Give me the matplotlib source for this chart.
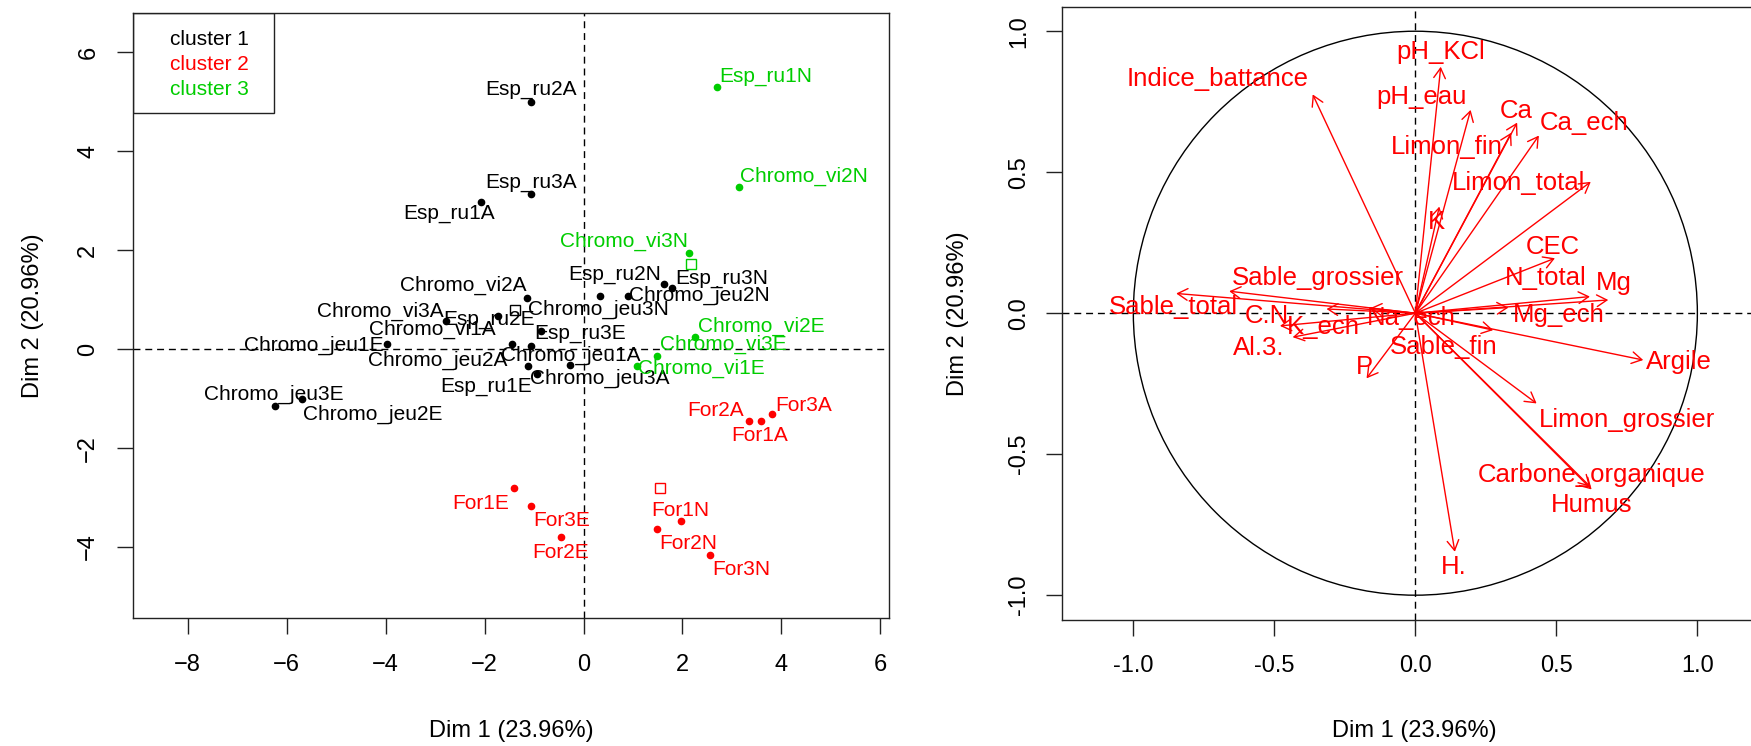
import numpy as np
import matplotlib.pyplot as plt
from matplotlib.patches import Circle, Rectangle

plt.rcParams['font.family'] = ['Liberation Sans', 'DejaVu Sans']

# ---- individuals factor map (HCPC clusters) ----
ind_names = ['Esp_ru2A', 'Esp_ru3A', 'Esp_ru1A', 'Chromo_vi2A', 'Chromo_vi3A',
             'Esp_ru2E', 'Chromo_vi1A', 'Chromo_jeu1E', 'Chromo_jeu2A', 'Chromo_jeu1A',
             'Chromo_jeu3A', 'Esp_ru1E', 'Esp_ru3E', 'Chromo_jeu3N', 'Esp_ru2N',
             'Esp_ru3N', 'Chromo_jeu2N', 'Chromo_jeu3E', 'Chromo_jeu2E',
             'Esp_ru1N', 'Chromo_vi2N', 'Chromo_vi3N', 'Chromo_vi2E', 'Chromo_vi3E',
             'Chromo_vi1E',
             'For2A', 'For1A', 'For3A', 'For1N', 'For2N', 'For3N', 'For1E', 'For3E', 'For2E']
ind_x = [-1.07, -1.07, -2.08, -1.15, -2.78, -1.72, -1.06, -3.98, -1.45, -0.27,
         -0.95, -1.13, -0.86, 0.33, 1.63, 1.78, 0.90, -6.23, -5.70,
         2.69, 3.15, 2.14, 2.25, 1.48, 1.09,
         3.34, 3.58, 3.81, 1.97, 1.48, 2.55, -1.40, -1.07, -0.46]
ind_y = [4.99, 3.13, 2.97, 1.04, 0.56, 0.66, 0.06, 0.11, 0.10, -0.33,
         -0.50, -0.34, 0.37, 1.08, 1.32, 1.24, 1.08, -1.14, -1.01,
         5.29, 3.27, 1.95, 0.25, -0.14, -0.35,
         -1.45, -1.45, -1.31, -3.47, -3.64, -4.16, -2.81, -3.18, -3.80]
ind_clust = [0] * 19 + [2] * 6 + [1] * 9

centre_x = [-1.39, 1.54, 2.17]
centre_y = [0.79, -2.81, 1.72]
clust_names = ['cluster 1', 'cluster 2', 'cluster 3']
clust_cols = ['black', '#FF0000', '#00CD00']

# ---- variables factor map ----
var_names = ['Indice_battance', 'pH_KCl', 'pH_eau', 'Ca', 'Limon_fin', 'Ca_ech',
             'Limon_total', 'K', 'CEC', 'N_total', 'Mg', 'Mg_ech', 'Argile',
             'Limon_grossier', 'Carbone_organique', 'Humus', 'H.', 'P', 'Sable_fin',
             'Na_ech', 'Sable_grossier', 'Sable_total', 'C.N', 'K_ech', 'Al.3.']
var_x = [-0.364, 0.090, 0.196, 0.361, 0.340, 0.438, 0.622, 0.085, 0.495, 0.619,
         0.684, 0.330, 0.808, 0.430, 0.620, 0.625, 0.140, -0.173, 0.276,
         -0.160, -0.660, -0.848, -0.480, -0.315, -0.435]
var_y = [0.776, 0.874, 0.721, 0.676, 0.640, 0.630, 0.466, 0.378, 0.195, 0.059,
         0.047, 0.020, -0.166, -0.320, -0.615, -0.625, -0.846, -0.231, -0.060,
         0.018, 0.078, 0.070, -0.045, 0.015, -0.085]

dim1_lab = 'Dim 1 (23.96%)'
dim2_lab = 'Dim 2 (20.96%)'

# label offsets (data units) from each point / arrow tip, as placed by autoLab
ind_off = {
    'Esp_ru2A': (0.0, 0.26), 'Esp_ru3A': (0.0, 0.23), 'Esp_ru1A': (-0.63, -0.22),
    'Chromo_vi2A': (-1.29, 0.24), 'Chromo_vi3A': (-1.32, 0.20), 'Esp_ru2E': (-0.19, -0.07),
    'Chromo_vi1A': (-1.99, 0.33), 'Chromo_jeu1E': (-1.47, -0.03), 'Chromo_jeu2A': (-1.49, -0.32),
    'Chromo_jeu1A': (0.01, 0.21), 'Chromo_jeu3A': (1.28, -0.09), 'Esp_ru1E': (-0.83, -0.42),
    'Esp_ru3E': (0.79, -0.05), 'Chromo_jeu3N': (-0.02, -0.27), 'Esp_ru2N': (-1.01, 0.18),
    'Esp_ru3N': (1.01, 0.19), 'Chromo_jeu2N': (1.45, 0.0), 'Chromo_jeu3E': (-0.03, 0.23),
    'Chromo_jeu2E': (1.44, -0.30), 'Esp_ru1N': (0.99, 0.23), 'Chromo_vi2N': (1.30, 0.23),
    'Chromo_vi3N': (-1.32, 0.22), 'Chromo_vi2E': (1.35, 0.22), 'Chromo_vi3E': (1.34, 0.24),
    'Chromo_vi1E': (1.30, -0.04), 'For2A': (-0.67, 0.20), 'For1A': (-0.03, -0.29),
    'For3A': (0.63, 0.17), 'For1N': (-0.02, 0.20), 'For2N': (0.64, -0.29),
    'For3N': (0.63, -0.29), 'For1E': (-0.68, -0.31), 'For3E': (0.63, -0.29),
    'For2E': (0.0, -0.30),
}
var_off = {
    'Indice_battance': (-0.338, 0.053), 'pH_KCl': (0.0, 0.053), 'pH_eau': (-0.174, 0.045),
    'Ca': (-0.005, 0.040), 'Limon_fin': (-0.228, -0.050), 'Ca_ech': (0.162, 0.043),
    'Limon_total': (-0.256, -0.005), 'K': (-0.009, -0.054), 'CEC': (-0.007, 0.041),
    'N_total': (-0.158, 0.065), 'Mg': (0.019, 0.059), 'Mg_ech': (0.179, -0.026),
    'Argile': (0.127, -0.006), 'Limon_grossier': (0.319, -0.059),
    'Carbone_organique': (0.005, 0.041), 'Humus': (0.0, -0.055), 'H.': (-0.003, -0.053),
    'P': (-0.009, 0.041), 'Sable_fin': (-0.177, -0.059), 'Na_ech': (0.147, -0.035),
    'Sable_grossier': (0.313, 0.046), 'Sable_total': (-0.010, -0.049),
    'C.N': (-0.047, 0.035), 'K_ech': (-0.012, -0.065), 'Al.3.': (-0.122, -0.037),
}

W, H = 1751, 746
fig = plt.figure(figsize=(W / 100, H / 100), dpi=100)

def style_axes(ax, ypad):
    for s in ax.spines.values():
        s.set_linewidth(1.0)
        s.set_color('#222222')
    ax.tick_params(length=11.5, width=1.0, labelsize=17, color='#222222')
    ax.tick_params(axis='x', pad=14)
    ax.tick_params(axis='y', pad=ypad)
    for lbl in ax.get_yticklabels():
        lbl.set_rotation(90)
        lbl.set_va('center')
    ax.axhline(0, color='black', lw=1.0, ls=(0, (5, 3.5)), zorder=1)
    ax.axvline(0, color='black', lw=1.0, ls=(0, (5, 3.5)), zorder=1)

# ---------------- left: individuals ----------------
ax1 = fig.add_axes([133.3 / W, 1 - 618.3 / H, 756 / W, 605.6 / H])
ax1.set_xlim(-9.10, 6.18)
ax1.set_ylim(-5.44, 6.80)
ax1.set_xticks(np.arange(-8, 7, 2))
ax1.set_yticks(np.arange(-4, 7, 2))
style_axes(ax1, 13)

for name, x, y, c in zip(ind_names, ind_x, ind_y, ind_clust):
    col = clust_cols[c]
    ax1.plot(x, y, 'o', ms=4.5, color=col, mec=col, zorder=3)
    dx, dy = ind_off[name]
    ax1.text(x + dx, y + dy, name, color=col, fontsize=15, ha='center', va='center', zorder=4)

for cx, cy, col in zip(centre_x, centre_y, clust_cols):
    ax1.plot(cx, cy, 's', ms=6.5, mfc='none', mec=col, mew=1.0, zorder=3)

# legend box (top left)
ax1.add_patch(Rectangle((0, 1 - 0.165), 0.1865, 0.165, transform=ax1.transAxes,
                        fill=False, ec='#222222', lw=1.0, zorder=5))
for i, (nm, col) in enumerate(zip(clust_names, clust_cols)):
    ax1.text(0.0485, 0.955 - i * 0.041, nm, color=col, fontsize=15,
             ha='left', va='center', transform=ax1.transAxes, zorder=5)

ax1.set_xlabel(dim1_lab, fontsize=17)
ax1.set_ylabel(dim2_lab, fontsize=17)
ax1.xaxis.set_label_coords(0.5, -0.186)
ax1.xaxis.label.set_va('center')
ax1.yaxis.set_label_coords(-0.133, 0.5)
ax1.yaxis.label.set_va('center')

# ---------------- right: variables ----------------
ax2 = fig.add_axes([1061.7 / W, 1 - 620 / H, 707.3 / W, 613.3 / H])
ax2.set_xlim(-1.254, 1.254)
ax2.set_ylim(-1.088, 1.087)
ax2.set_xticks([-1.0, -0.5, 0.0, 0.5, 1.0])
ax2.set_yticks([-1.0, -0.5, 0.0, 0.5, 1.0])
ax2.set_xticklabels(['-1.0', '-0.5', '0.0', '0.5', '1.0'])
ax2.set_yticklabels(['-1.0', '-0.5', '0.0', '0.5', '1.0'])
style_axes(ax2, 11)

ax2.add_patch(Circle((0, 0), 1.0, fill=False, ec='black', lw=1.0, zorder=2))

for name, x, y in zip(var_names, var_x, var_y):
    ax2.annotate('', xy=(x, y), xytext=(0, 0),
                 arrowprops=dict(arrowstyle='->,head_length=0.6,head_width=0.35',
                                 color='#FF0000', lw=1.0, shrinkA=0, shrinkB=0,
                                 mutation_scale=12), zorder=3)
    dx, dy = var_off[name]
    ax2.text(x + dx, y + dy, name, color='#FF0000', fontsize=18.5,
             ha='center', va='center', zorder=4)

ax2.set_xlabel(dim1_lab, fontsize=17)
ax2.set_ylabel(dim2_lab, fontsize=17)
ax2.xaxis.set_label_coords(0.498, -0.181)
ax2.xaxis.label.set_va('center')
ax2.yaxis.set_label_coords(-0.1466, 0.5)
ax2.yaxis.label.set_va('center')

fig.savefig('out.png', dpi=100)
